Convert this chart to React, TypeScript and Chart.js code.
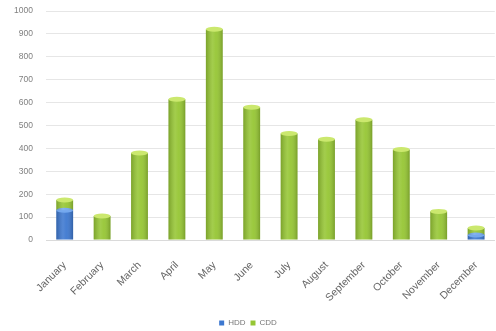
import React, { useEffect, useRef } from "react";
import { Chart, registerables } from "chart.js";

Chart.register(...registerables);

const months = [
  "January", "February", "March", "April", "May", "June",
  "July", "August", "September", "October", "November", "December",
];
const hdd = [130, 0, 0, 0, 0, 0, 0, 0, 0, 0, 0, 22];
const cdd = [45, 105, 380, 615, 920, 580, 465, 440, 525, 395, 125, 30];
const yTicks = [0, 100, 200, 300, 400, 500, 600, 700, 800, 900, 1000];

const capColors = ["#74a8ee", "#cbe86e"];

// Shades every bar like a cylinder: darker edges, a lighter middle, and a lit cap on top
const cylinderShade = {
  id: "cylinderShade",
  afterDatasetsDraw(chart: any) {
    const ctx = chart.ctx as CanvasRenderingContext2D;
    ctx.save();
    chart.data.datasets.forEach((ds: any, di: number) => {
      const meta = chart.getDatasetMeta(di);
      meta.data.forEach((el: any, i: number) => {
        const v = ds.data[i];
        if (!v) return;
        const { x, y, base, width } = el.getProps(["x", "y", "base", "width"], true);
        const x0 = x - width / 2;
        const x1 = x + width / 2;
        const g = ctx.createLinearGradient(x0, 0, x1, 0);
        g.addColorStop(0, "rgba(0,0,0,0.18)");
        g.addColorStop(0.4, "rgba(255,255,255,0.12)");
        g.addColorStop(0.6, "rgba(255,255,255,0.05)");
        g.addColorStop(1, "rgba(0,0,0,0.2)");
        ctx.fillStyle = g;
        ctx.fillRect(x0, y, width, base - y);
        ctx.beginPath();
        ctx.ellipse(x, y, width / 2, 2.5, 0, 0, Math.PI * 2);
        ctx.fillStyle = capColors[di];
        ctx.fill();
      });
    });
    ctx.restore();
  },
};

export default function App() {
  const ref = useRef<HTMLCanvasElement>(null);

  useEffect(() => {
    if (!ref.current) return;
    const chart = new Chart(ref.current, {
      type: "bar",
      data: {
        labels: months,
        datasets: [
          {
            label: "HDD",
            data: hdd,
            backgroundColor: "#3d78d0",
            borderWidth: 0,
            categoryPercentage: 0.9,
            barPercentage: 0.5,
          },
          {
            label: "CDD",
            data: cdd,
            backgroundColor: "#96c634",
            borderWidth: 0,
            categoryPercentage: 0.9,
            barPercentage: 0.5,
          },
        ],
      },
      plugins: [cylinderShade],
      options: {
        animation: false,
        responsive: false,
        maintainAspectRatio: false,
        layout: { padding: { left: 0, right: 0, top: 11, bottom: -6 } },
        plugins: {
          legend: {
            position: "bottom",
            labels: {
              boxWidth: 5,
              boxHeight: 5,
              padding: 5,
              color: "#777",
              font: { size: 8, family: "Liberation Sans" },
            },
          },
          tooltip: { enabled: false },
        },
        scales: {
          x: {
            stacked: true,
            grid: { display: false },
            border: { color: "#dadada" },
            afterFit: (axis: any) => {
              axis.height = 74;
            },
            ticks: {
              minRotation: 45,
              maxRotation: 45,
              color: "#666",
              padding: 11,
              font: { size: 10.5, family: "Liberation Sans" },
            },
          },
          y: {
            stacked: true,
            min: 0,
            max: 1000,
            afterBuildTicks: (axis: any) => {
              axis.ticks = yTicks.map((v) => ({ value: v }));
            },
            afterFit: (axis: any) => {
              axis.width = 46;
            },
            grid: { color: "#e6e6e6", tickLength: 11, tickColor: "rgba(0,0,0,0)" },
            border: { display: false },
            ticks: {
              color: "#808080",
              padding: 2,
              callback: (v: any) => String(v),
              font: { size: 8.5, family: "Liberation Sans" },
            },
          },
        },
      },
    });
    return () => chart.destroy();
  }, []);

  return (
    <div style={{ position: "fixed", left: 0, top: 0, width: 496, height: 331, background: "#fff" }}>
      <canvas ref={ref} width={496} height={331} />
    </div>
  );
}
